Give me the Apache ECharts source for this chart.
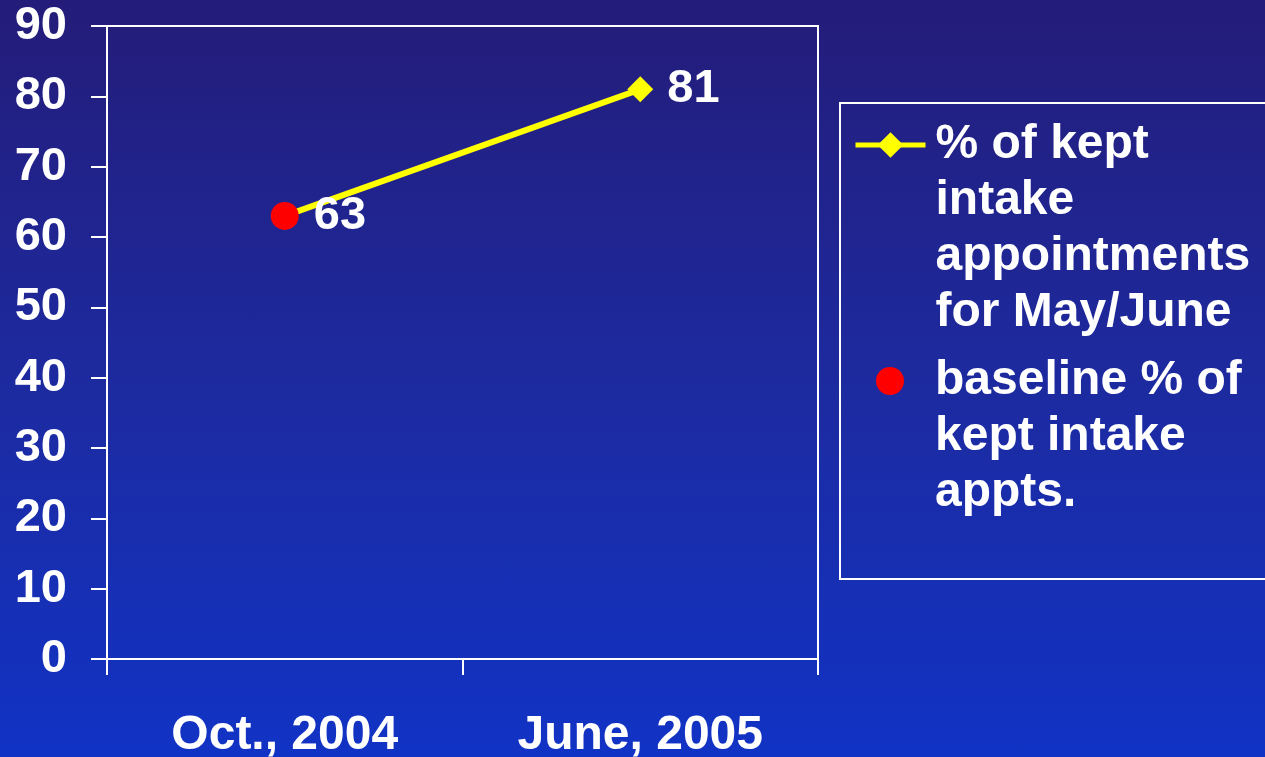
<!DOCTYPE html>
<html>
<head>
<meta charset="utf-8">
<script src="https://cdn.jsdelivr.net/npm/echarts@6/dist/echarts.min.js"></script>
<style>
  html, body { margin: 0; padding: 0; width: 100%; height: 100%; overflow: hidden;
    background: linear-gradient(to bottom, #241c79 0%, #1d2a9f 50%, #1133c5 100%); }
  #chart { width: 1265px; height: 757px; }
</style>
</head>
<body>
<div id="chart"></div>
<script>
// Survey periods on the horizontal axis
const categories = ['Oct., 2004', 'June, 2005'];
// % of kept intake appointments
const keptIntakeValues = [63, 81];
// baseline % of kept intake appointments (October only)
const baselineValues = [63];
// value axis range and step
const yMin = 0;
const yMax = 90;
const yStep = 10;

const keptIntakeName = '% of kept intake appointments for May/June';
const baselineName = 'baseline % of kept intake appts.';
const keptIntakeLegendLines = ['% of kept', 'intake', 'appointments', 'for May/June'];
const baselineLegendLines = ['baseline % of', 'kept intake', 'appts.'];

const FONT = '"Liberation Sans", Arial, Helvetica, sans-serif';
const WHITE = '#ffffff';
const LINE_H = 56;

// legend label: an empty leading line keeps the icon level with the first text line
function legendText(lines) {
  return '{pad| }\n' + lines.map(l => '{t|' + l + '}').join('\n');
}
function legendRich(padLines) {
  return {
    pad: { lineHeight: padLines * LINE_H, fontSize: 10 },
    t: { color: WHITE, fontSize: 48, fontWeight: 'bold', fontFamily: FONT,
         lineHeight: LINE_H, padding: [0, 0, 0, 5] }
  };
}

const chart = echarts.init(document.getElementById('chart'), null, { renderer: 'canvas' });

const option = {
  backgroundColor: 'transparent',
  animation: false,
  grid: {
    left: 107, right: 447, top: 26, bottom: 98,
    show: true, borderColor: WHITE, borderWidth: 2,
    backgroundColor: 'transparent',
    containLabel: false,
    outerBoundsMode: 'none'
  },
  xAxis: {
    type: 'category',
    data: categories,
    boundaryGap: true,
    axisLine: { show: true, lineStyle: { color: WHITE, width: 2 } },
    axisTick: { show: true, length: 16, inside: false, lineStyle: { color: WHITE, width: 2 } },
    axisLabel: { color: WHITE, fontSize: 48, fontWeight: 'bold', fontFamily: FONT, margin: 53 },
    splitLine: { show: false }
  },
  yAxis: {
    type: 'value',
    min: yMin, max: yMax, interval: yStep,
    axisLine: { show: true, lineStyle: { color: WHITE, width: 2 } },
    axisTick: { show: true, length: 16, inside: false, lineStyle: { color: WHITE, width: 2 } },
    axisLabel: { color: WHITE, fontSize: 47, fontWeight: 'bold', fontFamily: FONT, margin: 40 },
    splitLine: { show: false }
  },
  legend: [
    {
      data: [keptIntakeName],
      orient: 'vertical',
      left: 853, top: 28, padding: 0,
      itemWidth: 70, itemHeight: 32,
      selectedMode: false,
      lineStyle: { width: 5 },
      formatter: () => legendText(keptIntakeLegendLines),
      textStyle: { color: WHITE, rich: legendRich(3) }
    },
    {
      data: [baselineName],
      orient: 'vertical',
      left: 876, top: 292, padding: 0,
      itemWidth: 70, itemHeight: 28,
      selectedMode: false,
      formatter: () => legendText(baselineLegendLines),
      textStyle: { color: WHITE, rich: legendRich(2) }
    }
  ],
  graphic: [
    {
      // frame around the legend
      type: 'rect',
      shape: { x: 840, y: 103, width: 460, height: 476 },
      style: { fill: 'none', stroke: WHITE, lineWidth: 2 },
      silent: true
    }
  ],
  series: [
    {
      name: keptIntakeName,
      type: 'line',
      data: keptIntakeValues.map((v, i) => ({
        value: v,
        label: { show: i === keptIntakeValues.length - 1 }
      })),
      symbol: 'diamond',
      symbolSize: 26,
      lineStyle: { color: '#ffff00', width: 6 },
      itemStyle: { color: '#ffff00' },
      label: {
        position: 'right', distance: 14,
        color: WHITE, fontSize: 47, fontWeight: 'bold', fontFamily: FONT
      },
      z: 2
    },
    {
      name: baselineName,
      type: 'scatter',
      data: baselineValues.map((v, i) => [categories[i], v]),
      symbol: 'circle',
      symbolSize: 28,
      itemStyle: { color: '#ff0000', opacity: 1 },
      label: {
        show: true, position: 'right', distance: 15,
        formatter: p => p.value[1],
        color: WHITE, fontSize: 47, fontWeight: 'bold', fontFamily: FONT
      },
      z: 3
    }
  ]
};

chart.setOption(option);
</script>
</body>
</html>
